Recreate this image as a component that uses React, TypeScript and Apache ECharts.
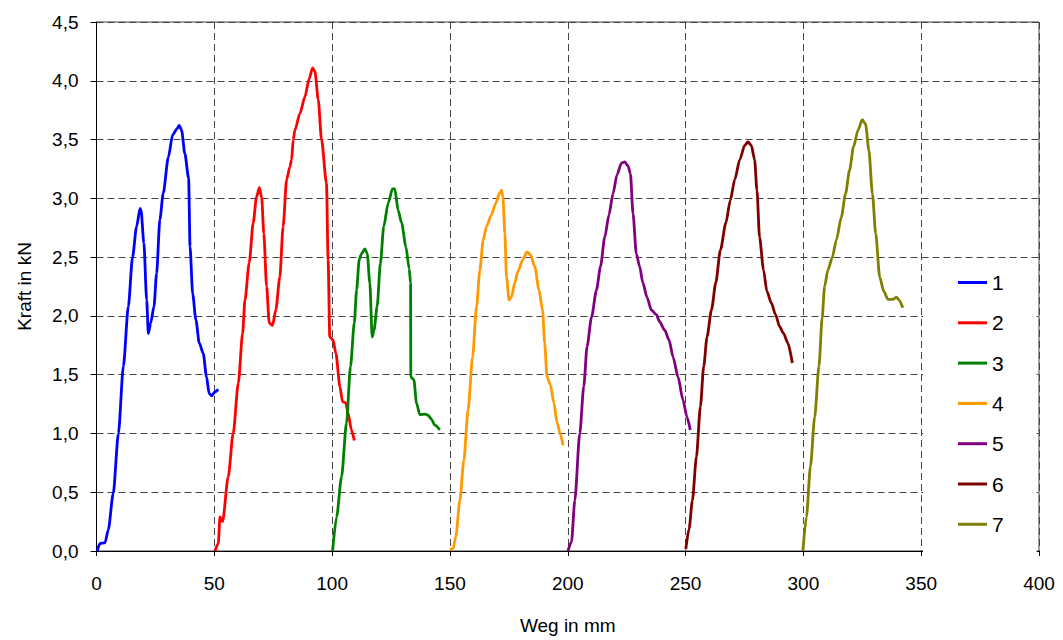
import React, { useEffect, useRef } from "react";
import * as echarts from "echarts";

const seriesNames = ["1", "2", "3", "4", "5", "6", "7"];
const seriesColors = ["#0000FF", "#FF0000", "#008000", "#FF9900", "#800080", "#800000", "#808000"];

const curve1: [number, number][] = [
  [0.3, 0.0], [1.5, 0.065], [3.6, 0.07], [5.0, 0.18], [7.1, 0.49], [9.3, 1.0], [11.4, 1.57],
  [13.5, 2.08], [15.3, 2.5], [17.0, 2.76], [18.5, 2.915], [18.9, 2.9], [20.1, 2.62], [21.3, 2.135],
  [22.0, 1.85], [23.0, 1.94], [24.4, 2.08], [25.5, 2.36], [26.9, 2.82], [28.3, 3.04], [30.5, 3.35],
  [32.3, 3.54], [34.3, 3.595], [35.1, 3.62], [36.1, 3.58], [37.5, 3.38], [39.1, 3.17], [39.7, 2.59],
  [40.8, 2.19], [42.2, 1.965], [43.6, 1.77], [45.3, 1.68], [46.7, 1.48], [47.8, 1.34], [48.9, 1.32],
  [50.3, 1.355], [51.7, 1.375],
];

const curve2: [number, number][] = [
  [50.3, 0.0], [51.7, 0.065], [52.4, 0.29], [53.5, 0.25], [55.9, 0.63], [58.0, 1.0], [60.2, 1.43],
  [62.0, 1.85], [63.0, 2.135], [64.8, 2.45], [66.5, 2.79], [67.9, 3.01], [69.1, 3.09], [70.1, 3.01],
  [71.0, 2.7], [72.2, 2.25], [73.3, 1.94], [74.7, 1.92], [76.1, 2.05], [77.8, 2.33], [79.2, 2.76],
  [80.7, 3.16], [82.1, 3.27], [82.8, 3.33], [83.5, 3.5], [84.2, 3.58], [86.3, 3.72], [88.4, 3.86],
  [90.3, 4.02], [91.7, 4.11], [92.7, 4.08], [94.1, 3.84], [95.5, 3.5], [97.6, 3.13], [98.3, 2.475],
  [99.0, 1.82], [100.4, 1.795], [101.6, 1.68], [103.3, 1.4], [104.4, 1.27], [105.8, 1.26],
  [106.8, 1.17], [108.2, 1.03], [109.4, 0.94],
];

const curve3: [number, number][] = [
  [100.2, 0.0], [101.9, 0.29], [104.0, 0.63], [106.1, 1.09], [107.8, 1.57], [109.4, 1.94],
  [110.4, 2.22], [111.5, 2.48], [112.5, 2.53], [113.9, 2.57], [114.9, 2.53], [116.0, 2.28],
  [117.0, 1.82], [117.8, 1.88], [119.1, 2.08], [120.5, 2.45], [121.9, 2.76], [123.8, 2.96],
  [125.6, 3.08], [126.6, 3.08], [128.0, 2.9], [129.5, 2.79], [131.3, 2.59], [132.7, 2.4],
  [133.3, 2.28], [133.4, 1.48], [134.7, 1.455], [135.8, 1.26], [137.2, 1.16], [139.3, 1.165],
  [140.7, 1.155], [142.2, 1.12], [143.6, 1.07], [145.7, 1.03],
];

const curve4: [number, number][] = [
  [150.0, 0.01], [151.3, 0.02], [152.5, 0.12], [154.2, 0.43], [155.9, 0.77], [157.7, 1.2],
  [159.6, 1.65], [161.3, 2.08], [162.7, 2.39], [164.1, 2.645], [165.5, 2.76], [167.6, 2.86],
  [169.5, 2.96], [170.9, 3.04], [171.9, 3.07], [172.5, 3.01], [173.3, 2.7], [174.0, 2.33],
  [175.1, 2.135], [176.1, 2.16], [177.5, 2.28], [178.9, 2.38], [180.8, 2.475], [182.7, 2.545],
  [184.2, 2.52], [186.0, 2.42], [187.8, 2.22], [189.3, 2.05], [190.2, 1.77], [191.2, 1.48],
  [192.7, 1.41], [194.1, 1.26], [195.5, 1.09], [196.9, 0.99], [198.0, 0.9],
];

const curve5: [number, number][] = [
  [200.1, 0.0], [201.6, 0.08], [203.0, 0.43], [205.1, 1.0], [206.8, 1.4], [208.2, 1.74],
  [210.1, 1.99], [212.2, 2.22], [213.9, 2.42], [215.7, 2.67], [217.5, 2.86], [219.2, 3.04],
  [220.9, 3.2], [222.8, 3.3], [224.2, 3.31], [225.6, 3.275], [226.6, 3.21], [227.7, 2.87],
  [229.1, 2.53], [230.5, 2.42], [231.9, 2.28], [233.6, 2.16], [235.5, 2.05], [237.6, 2.01],
  [239.0, 1.95], [241.1, 1.88], [243.0, 1.795], [244.7, 1.65], [246.8, 1.48], [248.9, 1.285],
  [250.6, 1.14], [252.0, 1.03],
];

const curve6: [number, number][] = [
  [250.1, 0.015], [251.5, 0.19], [252.9, 0.43], [254.6, 0.8], [256.3, 1.23], [257.7, 1.57],
  [259.1, 1.82], [261.0, 2.05], [262.8, 2.28], [264.8, 2.56], [267.1, 2.79], [269.0, 2.985],
  [270.9, 3.16], [273.0, 3.33], [275.1, 3.45], [276.5, 3.48], [277.9, 3.45], [279.3, 3.33],
  [280.3, 3.07], [281.4, 2.67], [283.1, 2.39], [284.5, 2.21], [286.4, 2.11], [288.2, 2.01],
  [289.9, 1.91], [291.6, 1.85], [293.4, 1.77], [295.3, 1.6],
];

const curve7: [number, number][] = [
  [299.8, 0.0], [301.3, 0.29], [303.0, 0.72], [304.8, 1.14], [306.6, 1.57], [308.0, 1.99],
  [309.0, 2.25], [310.4, 2.39], [312.3, 2.5], [314.0, 2.645], [316.1, 2.84], [317.9, 3.04],
  [319.6, 3.24], [321.3, 3.44], [323.2, 3.58], [325.0, 3.67], [326.4, 3.63], [327.8, 3.41],
  [329.3, 3.04], [330.7, 2.7], [332.4, 2.33], [334.1, 2.21], [335.9, 2.14], [338.0, 2.14],
  [339.5, 2.16], [340.5, 2.135], [342.2, 2.07],
];

const curves = [curve1, curve2, curve3, curve4, curve5, curve6, curve7];

const xAxisTitle = "Weg in mm";
const yAxisTitle = "Kraft in kN";

export default function App() {
  const ref = useRef<HTMLDivElement>(null);
  useEffect(() => {
    if (!ref.current) return;
    const chart = echarts.init(ref.current, undefined, { renderer: "svg" });
    const font = "Liberation Sans, Arial, sans-serif";
    chart.setOption({
      animation: false,
      backgroundColor: "#ffffff",
      textStyle: { fontFamily: font },
      grid: {
        left: 96.5,
        right: 24,
        top: 22,
        bottom: 89,
        show: true,
        borderColor: "#404040",
        borderWidth: 1,
      },
      legend: {
        orient: "vertical",
        left: 923,
        top: 262,
        backgroundColor: "#ffffff",
        padding: [10, 33, 18, 35],
        icon: "rect",
        itemWidth: 29,
        itemHeight: 3,
        itemGap: 19.3,
        textStyle: { fontSize: 21, color: "#000", fontFamily: font },
        data: seriesNames,
      },
      xAxis: {
        type: "value",
        min: 0,
        max: 400,
        interval: 50,
        name: xAxisTitle,
        nameLocation: "middle",
        nameGap: 65,
        nameTextStyle: { fontSize: 19, color: "#000", fontFamily: font },
        axisLine: { show: true, onZero: false, lineStyle: { color: "#000", width: 1 } },
        axisTick: { show: true, length: 5, lineStyle: { color: "#000" } },
        axisLabel: { fontSize: 19, color: "#000", margin: 23, fontFamily: font },
        splitLine: { show: true, lineStyle: { color: "#444", type: [7, 4], width: 1 } },
      },
      yAxis: {
        type: "value",
        min: 0,
        max: 4.5,
        interval: 0.5,
        name: yAxisTitle,
        nameLocation: "middle",
        nameGap: 63,
        nameTextStyle: { fontSize: 19, color: "#000", fontFamily: font },
        axisLine: { show: true, lineStyle: { color: "#000", width: 1 } },
        axisTick: { show: true, length: 6, lineStyle: { color: "#000" } },
        axisLabel: {
          fontSize: 19,
          color: "#000",
          margin: 18,
          fontFamily: font,
          formatter: (v: number) => v.toFixed(1).replace(".", ","),
        },
        splitLine: { show: true, lineStyle: { color: "#444", type: [7, 4], width: 1 } },
      },
      series: curves.map((c, i) => ({
        name: seriesNames[i],
        type: "line",
        data: c,
        symbol: "none",
        showSymbol: false,
        smooth: 0.25,
        smoothMonotone: "x",
        lineStyle: { color: seriesColors[i], width: 2.8 },
        itemStyle: { color: seriesColors[i] },
        z: 2,
      })),
    });
    return () => chart.dispose();
  }, []);
  return (
    <div
      ref={ref}
      style={{ position: "fixed", left: 0, top: 0, width: 1063, height: 640, background: "#fff" }}
    />
  );
}
